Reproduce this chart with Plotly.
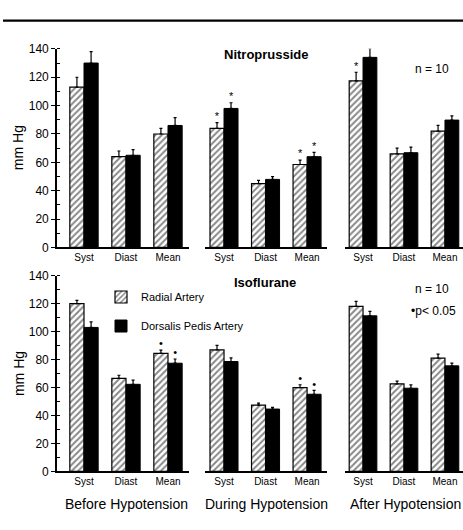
import numpy as np
import plotly.graph_objects as go

# ---- data -------------------------------------------------------------
categories = ["Syst", "Diast", "Mean"]
phases = ["Before Hypotension", "During Hypotension", "After Hypotension"]

# Nitroprusside: mean values and +SE per phase (Syst, Diast, Mean)
nitro_radial = [[113, 64, 80], [84, 45, 58.5], [117.5, 66, 82]]
nitro_radial_se = [[7, 4, 4], [4, 2.3, 3], [6, 4, 4]]
nitro_dorsalis = [[130, 65, 86], [98, 48, 64], [134, 66.8, 89.8]]
nitro_dorsalis_se = [[8, 4, 5.5], [4, 2, 3], [6.5, 4, 3]]
nitro_sig_radial = [[False, False, False], [True, False, True], [True, False, False]]
nitro_sig_dorsalis = [[False, False, False], [True, False, True], [True, False, False]]

# Isoflurane
iso_radial = [[120, 66.5, 84.4], [86.9, 47.4, 60], [118.1, 62.6, 81.1]]
iso_radial_se = [[2.4, 2.3, 2.3], [3.2, 1.5, 2], [3.5, 2, 2.8]]
iso_dorsalis = [[103, 62.3, 77.4], [78.6, 44.6, 55.2], [111.3, 59.5, 75.5]]
iso_dorsalis_se = [[4, 3, 3], [2.6, 1.2, 2.8], [3.2, 2.4, 2]]
iso_sig_radial = [[False, False, True], [False, False, True], [False, False, False]]
iso_sig_dorsalis = [[False, False, True], [False, False, True], [False, False, False]]

y_ticks = [0, 20, 40, 60, 80, 100, 120, 140]

# ---- layout helpers ----------------------------------------------------
W, H = 463, 530
FONT = "Liberation Sans, Arial, Helvetica, sans-serif"


def fx(p):
    return p / W


def fy(p):
    return 1 - p / H


BAR_W = 0.3375
col_domains = [(57, 189), (205, 327), (345, 463)]
col_ranges = [(-0.643, 2.5), (-0.458, 2.48), (-0.44, 2.44)]
row_domains = [(247, 43), (477, 276)]

fig = go.Figure()

panels = [
    (nitro_radial, nitro_radial_se, nitro_dorsalis, nitro_dorsalis_se,
     nitro_sig_radial, nitro_sig_dorsalis, "*"),
    (iso_radial, iso_radial_se, iso_dorsalis, iso_dorsalis_se,
     iso_sig_radial, iso_sig_dorsalis, "•"),
]

idx = np.arange(len(categories))
for r, (rad, rad_se, dor, dor_se, sig_r, sig_d, mark) in enumerate(panels):
    yname = "y" if r == 0 else "y2"
    for c in range(3):
        axn = r * 3 + c + 1
        xname = "x" if axn == 1 else f"x{axn}"
        legend_here = (r == 1 and c == 0)
        xr = idx - BAR_W / 2
        xd = idx + BAR_W / 2
        fig.add_trace(go.Bar(
            x=xr, y=rad[c], width=BAR_W, xaxis=xname, yaxis=yname,
            name="Radial Artery", showlegend=legend_here, legendgroup="a",
            marker=dict(color="white",
                        line=dict(color="black", width=1.2),
                        pattern=dict(shape="/", fgcolor="#111111",
                                     bgcolor="white", size=4.5, solidity=0.45)),
            error_y=dict(type="data", symmetric=False, array=rad_se[c],
                         arrayminus=[0, 0, 0], color="black",
                         thickness=1.2, width=1.5),
            cliponaxis=False,
        ))
        fig.add_trace(go.Bar(
            x=xd, y=dor[c], width=BAR_W, xaxis=xname, yaxis=yname,
            name="Dorsalis Pedis Artery", showlegend=legend_here,
            legendgroup="b",
            marker=dict(color="black", line=dict(color="black", width=1)),
            error_y=dict(type="data", symmetric=False, array=dor_se[c],
                         arrayminus=[0, 0, 0], color="black",
                         thickness=1.2, width=1.5),
            cliponaxis=False,
        ))
        # significance markers above the error bars
        sx, sy = [], []
        for i in range(3):
            if sig_r[c][i]:
                sx.append(xr[i]); sy.append(rad[c][i] + rad_se[c][i])
            if sig_d[c][i]:
                sx.append(xd[i]); sy.append(dor[c][i] + dor_se[c][i])
        if sx:
            fig.add_trace(go.Scatter(
                x=sx, y=sy, mode="text", text=[mark] * len(sx),
                textposition="top center", xaxis=xname, yaxis=yname,
                textfont=dict(family=FONT, size=11, color="#000000"),
                marker=dict(color="#000000"),
                showlegend=False, cliponaxis=False, hoverinfo="skip",
            ))

        d0, d1 = col_domains[c]
        fig.layout[f"xaxis{'' if axn == 1 else axn}"] = dict(
            domain=[fx(d0), fx(d1)], range=list(col_ranges[c]),
            anchor=yname, showline=True, linecolor="black", linewidth=1.6,
            tickvals=list(idx), ticktext=categories, ticks="",
            showgrid=False, zeroline=False, fixedrange=True,
            tickfont=dict(family=FONT, size=10, color="black"),
        )
    t, b = row_domains[r]
    fig.layout["yaxis" if r == 0 else "yaxis2"] = dict(
        domain=[fy(t), fy(b)], range=[0, 140], anchor="x" if r == 0 else "x4",
        tickvals=y_ticks, ticks="outside", ticklen=4, tickwidth=1.2,
        tickcolor="black", showline=True, linecolor="black", linewidth=1.6,
        minor=dict(dtick=10, ticks="inside", ticklen=3, tickcolor="black",
                   tickwidth=1.2, showgrid=False),
        showgrid=False, zeroline=False, fixedrange=True,
        tickfont=dict(family=FONT, size=12, color="black"),
    )


def note(text, x, y, size, angle=0, xanchor="center"):
    fig.add_annotation(text=text, x=fx(x), y=fy(y), xref="paper",
                       yref="paper", showarrow=False, textangle=angle,
                       xanchor=xanchor, yanchor="middle",
                       font=dict(family=FONT, size=size, color="black"))


note("<b>Nitroprusside</b>", 266, 49, 13)
note("<b>Isoflurane</b>", 265, 283, 13)
note("n = 10", 432, 64, 12)
note("n = 10", 432, 290, 12)
note("•p< 0.05", 433, 312, 12)
note("mm Hg", 18, 145, 14, angle=-90)
note("mm Hg", 19, 377, 14, angle=-90)
for name, cx in zip(phases, [126.5, 266, 405]):
    note(name, cx, 510, 14)

# rule across the top of the figure
fig.add_shape(type="line", xref="paper", yref="paper",
              x0=fx(3), x1=1, y0=fy(14), y1=fy(14),
              line=dict(color="black", width=2.3))

fig.update_layout(
    width=W, height=H, margin=dict(l=0, r=0, t=0, b=0),
    paper_bgcolor="white", plot_bgcolor="white",
    barmode="overlay", showlegend=True,
    legend=dict(x=fx(101), y=fy(283), xanchor="left", yanchor="top",
                bgcolor="rgba(0,0,0,0)", borderwidth=0,
                traceorder="grouped", tracegroupgap=10,
                font=dict(family=FONT, size=11, color="black")),
    font=dict(family=FONT, color="black"),
)

fig.write_html("out.html")
